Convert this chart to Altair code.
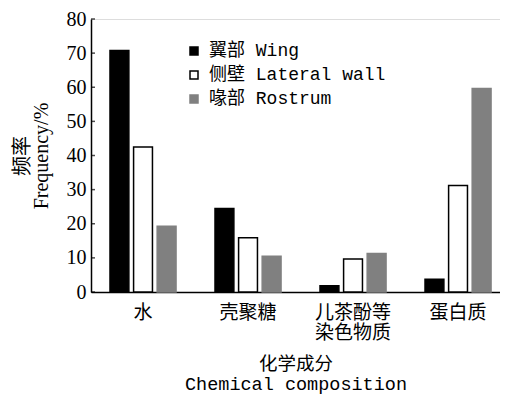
import altair as alt
import pandas as pd

categories = ["水", "壳聚糖", "儿茶酚等\n染色物质", "蛋白质"]
series = ["翼部 Wing", "侧壁 Lateral wall", "喙部 Rostrum"]
wing = [70.8, 24.5, 1.8, 3.7]
lateral = [42.5, 15.9, 9.7, 31.2]
rostrum = [19.3, 10.5, 11.3, 59.6]
y_ticks = [0, 10, 20, 30, 40, 50, 60, 70, 80]

rows = []
for s, vals in zip(series, [wing, lateral, rostrum]):
    for c, v in zip(categories, vals):
        rows.append({"cat": c, "series": s, "value": v})
df = pd.DataFrame(rows)
ticks_df = pd.DataFrame({"v": y_ticks})

mono_cjk = "Liberation Mono, Noto Sans CJK SC"
serif_cjk = "Liberation Serif, Noto Sans CJK SC"

fill_scale = alt.Scale(domain=series, range=["#000000", "#ffffff", "#808080"])
stroke_scale = alt.Scale(domain=series, range=["#000000", "#000000", "#808080"])

legend = alt.Legend(
    title=None, orient="none", legendX=94, legendY=23,
    labelFont=mono_cjk, labelFontSize=18, labelColor="black",
    symbolType="square", symbolSize=64, symbolStrokeWidth=1.5,
    labelOffset=6, rowPadding=6, labelLimit=400,
)

y_axis = alt.Axis(
    values=y_ticks, grid=False, ticks=False, domainColor="black",
    domainWidth=1.5, labelFont="Liberation Serif", labelFontSize=20,
    labelColor="black", labelPadding=5, labelOverlap=False,
    labelFlush=False,
    title=["频率", "Frequency/%"], titleFont=serif_cjk,
    titleFontSize=20, titleFontWeight="normal", titleColor="black",
    titleLineHeight=19, titlePadding=15,
)

bars = alt.Chart(df).mark_bar(strokeWidth=1.5).encode(
    x=alt.X("cat:N", sort=categories,
            scale=alt.Scale(paddingInner=0.371, paddingOuter=0.133, align=0.68),
            axis=alt.Axis(
                labelAngle=0, ticks=False, domainColor="black", domainWidth=1.5,
                labelFont="Noto Sans CJK SC", labelFontSize=19, labelColor="black",
                labelExpr="split(datum.label, '\\n')", labelLineHeight=20,
                labelPadding=11, labelOverlap=False,
                title=["化学成分", "Chemical composition"],
                titleFont=mono_cjk, titleFontSize=18.5, titleFontWeight="normal",
                titleColor="black", titleLineHeight=20, titlePadding=12,
            )),
    xOffset=alt.XOffset("series:N", sort=series, scale=alt.Scale(paddingInner=0.2)),
    y=alt.Y("value:Q", scale=alt.Scale(domain=[0, 80], nice=False), axis=y_axis),
    fill=alt.Fill("series:N", sort=series, scale=fill_scale, legend=legend),
    stroke=alt.Stroke("series:N", sort=series, scale=stroke_scale, legend=legend),
)

yticks = alt.Chart(ticks_df).mark_tick(color="black", thickness=1.5, size=4).encode(
    y=alt.Y("v:Q", axis=y_axis),
    x=alt.value(2),
)

chart = alt.layer(bars, yticks).properties(
    width=409, height=273,
    autosize=alt.AutoSizeParams(type="none"),
    padding={"left": 83, "top": 11, "right": 0, "bottom": 104},
).configure_view(strokeWidth=0).configure(background="white")

chart.save("out.html", embed_options={"renderer": "svg", "actions": False})
